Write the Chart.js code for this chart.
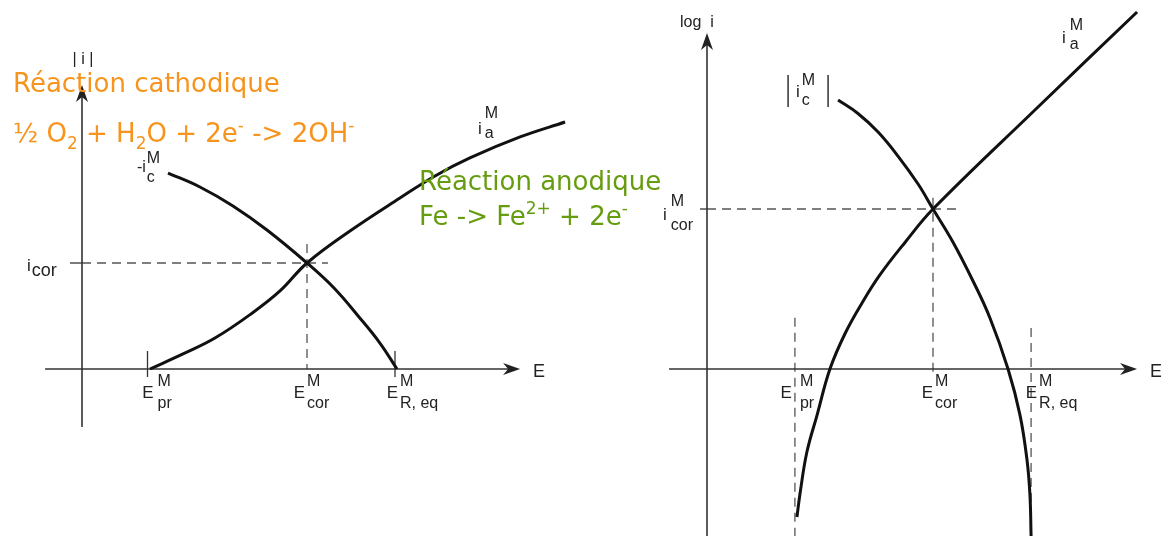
<!DOCTYPE html>
<html>
<head>
<meta charset="utf-8">
<script src="https://cdn.jsdelivr.net/npm/chart.js@4.4.1/dist/chart.umd.min.js"></script>
<style>
  body { margin: 0; background: #fff; width: 1161px; height: 536px; overflow: hidden; position: relative; }
  canvas { position: absolute; top: 0; }
  #courbe1 { left: 0; }
  #courbe2 { left: 580px; }
  .note { position: absolute; font-family: "DejaVu Sans", sans-serif; font-size: 26px; line-height: 26px; white-space: nowrap; z-index: 2; }
  .orange { color: #f7941d; }
  .vert { color: #669c10; }
  .note sub, .note sup { font-size: 17px; line-height: 0; position: relative; vertical-align: baseline; }
  .note sub { top: 7px; }
  .note sup { top: -11px; }
</style>
</head>
<body>
<canvas id="courbe1" width="580" height="536"></canvas>
<canvas id="courbe2" width="581" height="536"></canvas>

<div class="note orange" style="left:13px; top:70px;">Réaction cathodique</div>
<div class="note orange" style="left:13px; top:120px;">½ O<sub>2</sub> + H<sub>2</sub>O + 2e<sup>-</sup> -&gt; 2OH<sup>-</sup></div>
<div class="note vert" style="left:419px; top:168px;">Réaction anodique</div>
<div class="note vert" style="left:419px; top:203px;">Fe -&gt; Fe<sup>2+</sup> + 2e<sup>-</sup></div>

<script>
// Diagramme 1 : |i| en fonction de E (unités : E / E_cor, i / i_cor)
const E_anode1   = [0.302, 0.449, 0.591, 0.751, 0.88, 1.00, 1.191, 1.413, 1.569, 1.724, 1.947, 2.147];
const i_anode1   = [0.00, 0.142, 0.292, 0.519, 0.736, 1.00, 1.302, 1.613, 1.821, 1.991, 2.189, 2.33];
const E_cathode1 = [0.382, 0.524, 0.671, 0.822, 1.00, 1.12, 1.231, 1.324, 1.40];
const i_cathode1 = [1.849, 1.717, 1.538, 1.311, 1.00, 0.764, 0.491, 0.245, 0.00];
const E_reperes1 = [0.30, 1.00, 1.40];
const i_cor1 = 1.00;

// Diagramme 2 : log i en fonction de E
const E_anode2      = [0.398, 0.412, 0.442, 0.487, 0.544, 0.611, 0.686, 0.765, 0.876, 1.00, 1.451, 1.903];
const logi_anode2   = [-0.925, -0.775, -0.519, -0.288, 0.00, 0.222, 0.413, 0.588, 0.791, 1.00, 1.619, 2.231];
const E_cathode2    = [0.58, 0.668, 0.757, 0.845, 0.934, 1.00, 1.088, 1.177, 1.252, 1.332, 1.385, 1.416, 1.429, 1.434];
const logi_cathode2 = [1.681, 1.597, 1.481, 1.331, 1.156, 1.00, 0.794, 0.55, 0.319, 0.00, -0.288, -0.569, -0.788, -1.044];
const E_reperes2 = [0.389, 1.00, 1.434];
const logi_cor2 = 1.00;

const noms_E = ['pr', 'cor', 'R, eq'];

const POLICE = '"Liberation Sans", Arial, sans-serif';

function points(xs, ys) {
  return xs.map((x, k) => ({ x: x, y: ys[k] }));
}

function trait(ctx, x1, y1, x2, y2) {
  ctx.beginPath();
  ctx.moveTo(x1, y1);
  ctx.lineTo(x2, y2);
  ctx.stroke();
}

function fleche(ctx, x, y, vers) {
  ctx.save();
  ctx.translate(x, y);
  if (vers === 'haut') ctx.rotate(-Math.PI / 2);
  ctx.beginPath();
  ctx.moveTo(0, 0);
  ctx.lineTo(-17, -6);
  ctx.lineTo(-12, 0);
  ctx.lineTo(-17, 6);
  ctx.closePath();
  ctx.fill();
  ctx.restore();
}

// texte de base + exposant / indice empilés
function etiquette(ctx, x, y, base, haut, bas, o) {
  o = o || {};
  ctx.font = (o.taille || 17) + 'px ' + POLICE;
  ctx.fillText(base, x, y);
  const x2 = x + ctx.measureText(base).width + (o.ecart == null ? 2 : o.ecart);
  ctx.font = (o.petit || 16) + 'px ' + POLICE;
  if (haut) ctx.fillText(haut, x2, y + (o.dHaut == null ? -12 : o.dHaut));
  if (bas) ctx.fillText(bas, x2, y + (o.dBas == null ? 10 : o.dBas));
}

function etiquetteE(ctx, xp, y0, nom, dx, ecart) {
  ctx.font = '17px ' + POLICE;
  const w = ctx.measureText('E').width;
  etiquette(ctx, xp + dx - w, y0 + 29, 'E', 'M', nom, { ecart: ecart, dHaut: -12, dBas: 10 });
}

function pointilles(ctx) {
  ctx.strokeStyle = '#555';
  ctx.lineWidth = 1.3;
  ctx.setLineDash([9, 6]);
}

function axes(ctx, X, Y, xAxe, yAxe) {
  const x0 = X(0), y0 = Y(0);
  ctx.setLineDash([]);
  ctx.strokeStyle = '#333';
  ctx.fillStyle = '#222';
  ctx.lineWidth = 1.6;
  trait(ctx, X(xAxe[0]), y0, X(xAxe[1]) - 10, y0);
  fleche(ctx, X(xAxe[1]), y0, 'droite');
  trait(ctx, x0, Y(yAxe[0]), x0, Y(yAxe[1]) + 10);
  fleche(ctx, x0, Y(yAxe[1]), 'haut');
}

const decor1 = {
  id: 'decor1',
  beforeDatasetsDraw(chart) {
    const ctx = chart.ctx;
    const X = v => chart.scales.x.getPixelForValue(v);
    const Y = v => chart.scales.y.getPixelForValue(v);
    const x0 = X(0), y0 = Y(0);
    ctx.save();
    pointilles(ctx);
    trait(ctx, x0, Y(i_cor1), X(1.093), Y(i_cor1));
    trait(ctx, X(E_reperes1[1]), Y(1.18), X(E_reperes1[1]), y0);
    axes(ctx, X, Y, [-0.164, 1.947], [-0.547, 2.679]);
    ctx.lineWidth = 1.3;
    trait(ctx, x0 - 12, Y(i_cor1), x0, Y(i_cor1));
    [E_reperes1[0], E_reperes1[2]].forEach(e => trait(ctx, X(e) - 2, y0 - 18, X(e) - 2, y0 + 8));
    ctx.restore();
  },
  afterDraw(chart) {
    const ctx = chart.ctx;
    const X = v => chart.scales.x.getPixelForValue(v);
    const Y = v => chart.scales.y.getPixelForValue(v);
    const x0 = X(0), y0 = Y(0);
    ctx.save();
    ctx.fillStyle = '#222';
    ctx.textBaseline = 'alphabetic';
    const dx = [4, -2, 1], ec = [4, 2, 2];
    E_reperes1.forEach((e, k) => etiquetteE(ctx, X(e), y0, noms_E[k], dx[k], ec[k]));
    ctx.font = '18px ' + POLICE;
    ctx.fillText('E', X(1.947) + 13, y0 + 8);
    ctx.font = '16px ' + POLICE;
    ctx.textAlign = 'center';
    ctx.fillText('| i |', x0 + 1, 64);
    ctx.textAlign = 'left';
    const yc = Y(i_cor1);
    etiquette(ctx, 27, yc + 8, 'i', null, 'cor', { ecart: 1, petit: 18, dBas: 5 });
    const fa = E_anode1.length - 1;
    etiquette(ctx, X(E_anode1[fa]) - 87, Y(i_anode1[fa]) + 12, 'i', 'M', 'a', { dHaut: -16, dBas: 4, ecart: 3 });
    etiquette(ctx, X(E_cathode1[0]) - 31, Y(i_cathode1[0]) - 1, '-i', 'M', 'c', { taille: 16, dHaut: -9, dBas: 10, ecart: 1 });
    ctx.restore();
  }
};

const decor2 = {
  id: 'decor2',
  beforeDatasetsDraw(chart) {
    const ctx = chart.ctx;
    const X = v => chart.scales.x.getPixelForValue(v);
    const Y = v => chart.scales.y.getPixelForValue(v);
    const x0 = X(0), y0 = Y(0), bas = chart.chartArea.bottom;
    ctx.save();
    pointilles(ctx);
    trait(ctx, x0, Y(logi_cor2), X(1.111), Y(logi_cor2));
    trait(ctx, X(E_reperes2[1]), Y(1.07), X(E_reperes2[1]), y0 + 5);
    trait(ctx, X(E_reperes2[0]), Y(0.32), X(E_reperes2[0]), bas);
    trait(ctx, X(E_reperes2[2]), Y(0.256), X(E_reperes2[2]), bas);
    axes(ctx, X, Y, [-0.168, 1.903], [-1.1, 2.1]);
    ctx.lineWidth = 1.3;
    trait(ctx, x0 - 7, Y(logi_cor2), x0, Y(logi_cor2));
    ctx.restore();
  },
  afterDraw(chart) {
    const ctx = chart.ctx;
    const X = v => chart.scales.x.getPixelForValue(v);
    const Y = v => chart.scales.y.getPixelForValue(v);
    const x0 = X(0), y0 = Y(0);
    ctx.save();
    ctx.fillStyle = '#222';
    ctx.strokeStyle = '#222';
    const dx = [-3, 0, 6], ec = [8, 2, 2];
    E_reperes2.forEach((e, k) => etiquetteE(ctx, X(e), y0, noms_E[k], dx[k], ec[k]));
    ctx.font = '18px ' + POLICE;
    ctx.fillText('E', X(1.903) + 13, y0 + 8);
    ctx.font = '16px ' + POLICE;
    ctx.fillText('log  i', x0 - 27, 27);
    const yc = Y(logi_cor2);
    etiquette(ctx, x0 - 44, yc + 11, 'i', 'M', 'cor', { ecart: 4, dHaut: -14, dBas: 10 });
    const fa = E_anode2.length - 1;
    etiquette(ctx, X(E_anode2[fa]) - 75, Y(logi_anode2[fa]) + 31, 'i', 'M', 'a', { ecart: 4, dHaut: -13, dBas: 6 });
    const xc = X(E_cathode2[0]), ycc = Y(logi_cathode2[0]);
    etiquette(ctx, xc - 42, ycc - 3, 'i', 'M', 'c', { ecart: 2, dHaut: -12, dBas: 8 });
    ctx.lineWidth = 1.4;
    trait(ctx, xc - 50, ycc - 25, xc - 50, ycc + 7);
    trait(ctx, xc - 10, ycc - 25, xc - 10, ycc + 7);
    ctx.restore();
  }
};

function creerCourbe(id, jeux, cadre, plugin) {
  const ctx = document.getElementById(id).getContext('2d');
  const w = ctx.canvas.width, h = ctx.canvas.height;
  return new Chart(ctx, {
    type: 'line',
    data: {
      datasets: jeux.map(d => ({
        data: d,
        borderColor: '#111',
        borderWidth: 3,
        pointRadius: 0,
        tension: 0.4,
        fill: false,
        clip: false
      }))
    },
    options: {
      responsive: false,
      animation: false,
      layout: { padding: 0, autoPadding: false },
      plugins: { legend: { display: false }, tooltip: { enabled: false } },
      scales: {
        x: { type: 'linear', display: false, min: -cadre.ox / cadre.ux, max: (w - cadre.ox) / cadre.ux },
        y: { type: 'linear', display: false, min: -(h - cadre.oy) / cadre.uy, max: cadre.oy / cadre.uy }
      }
    },
    plugins: [plugin]
  });
}

creerCourbe('courbe1',
  [points(E_anode1, i_anode1), points(E_cathode1, i_cathode1)],
  { ox: 82, oy: 369, ux: 225, uy: 106 }, decor1);

creerCourbe('courbe2',
  [points(E_anode2, logi_anode2), points(E_cathode2, logi_cathode2)],
  { ox: 127, oy: 369, ux: 226, uy: 160 }, decor2);
</script>
</body>
</html>
